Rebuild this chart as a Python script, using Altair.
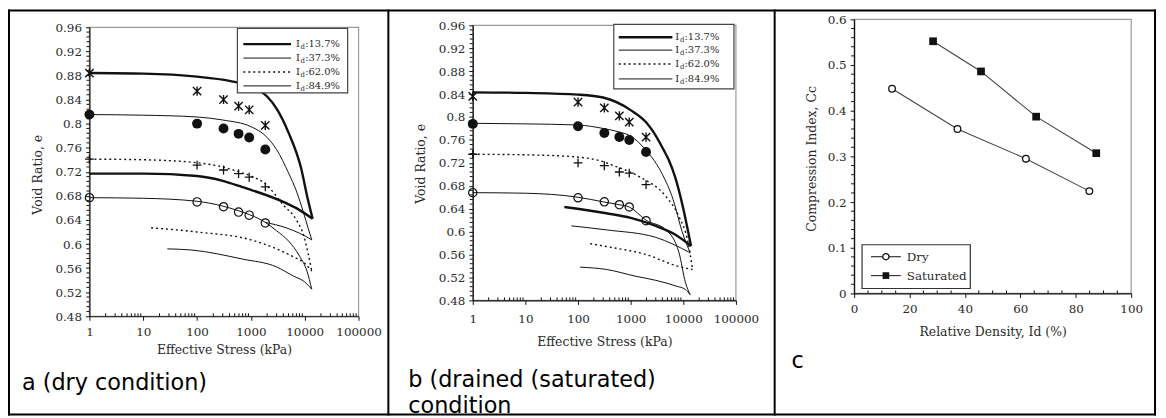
import altair as alt
import pandas as pd

# ------------------------------------------------------------------
# values
# ------------------------------------------------------------------
STRESS_TICKS = [1, 10, 100, 1000, 10000, 100000]
VOID_TICKS = [0.48, 0.52, 0.56, 0.60, 0.64, 0.68, 0.72, 0.76, 0.80, 0.84, 0.88, 0.92, 0.96]
CC_TICKS = [0.0, 0.1, 0.2, 0.3, 0.4, 0.5, 0.6]
ID_TICKS = [0, 20, 40, 60, 80, 100]
DENSITY_LABELS = ["13.7%", "37.3%", "62.0%", "84.9%"]
C_SERIES = ["Dry", "Saturated"]
CAPTIONS = ["a (dry condition)", "b (drained (saturated)", "condition", "c"]

# panel a (dry): loading / unloading curves (stress kPa, void ratio)
A_L137_S = [1, 10, 100, 400, 1000, 2000, 3000, 5000, 8500, 11500, 14000]
A_L137_E = [0.884, 0.883, 0.878, 0.871, 0.862, 0.845, 0.825, 0.785, 0.727, 0.673, 0.642]
A_U137_S = [1, 10, 100, 300, 725, 1000, 4500, 7500, 14000]
A_U137_E = [0.717, 0.717, 0.713, 0.705, 0.694, 0.690, 0.668, 0.658, 0.642]
A_L373_S = [1, 10, 100, 300, 1000, 2000, 3000, 5000, 7000, 9500, 11500, 13500]
A_L373_E = [0.815, 0.814, 0.811, 0.806, 0.795, 0.777, 0.757, 0.718, 0.688, 0.652, 0.627, 0.607]
A_U373_S = [1850, 4500, 8000, 13500]
A_U373_E = [0.636, 0.627, 0.618, 0.607]
A_L620_S = [1, 10, 100, 300, 600, 930, 1850, 4000, 7000, 9500, 11500, 13500]
A_L620_E = [0.741, 0.740, 0.735, 0.728, 0.720, 0.714, 0.700, 0.665, 0.640, 0.615, 0.585, 0.555]
A_U620_S = [14, 100, 1000, 3000, 6100, 10000, 13500]
A_U620_E = [0.627, 0.620, 0.607, 0.592, 0.579, 0.568, 0.555]
A_L849_S = [1, 10, 100, 300, 600, 930, 1850, 3000, 5000, 8000, 11000, 13500]
A_L849_E = [0.677, 0.676, 0.671, 0.663, 0.655, 0.649, 0.636, 0.622, 0.605, 0.580, 0.555, 0.525]
A_U849_S = [28, 80, 700, 3000, 6100, 10000, 13500]
A_U849_E = [0.592, 0.590, 0.575, 0.562, 0.547, 0.537, 0.525]
# panel a measured points
A_MS = [1, 100, 310, 590, 930, 1850]
A_M137 = [0.884, 0.854, 0.840, 0.829, 0.823, 0.797]
A_M373 = [0.815, 0.800, 0.792, 0.783, 0.777, 0.757]
A_M620 = [0.741, 0.731, 0.723, 0.717, 0.711, 0.695]
A_M849 = [0.677, 0.670, 0.662, 0.653, 0.648, 0.635]

# panel b (drained / saturated)
B_L137_S = [1, 10, 100, 300, 1000, 2000, 2700, 4200, 5300, 7000, 10000, 14000]
B_L137_E = [0.843, 0.842, 0.839, 0.834, 0.812, 0.790, 0.774, 0.743, 0.725, 0.695, 0.640, 0.575]
B_U137_S = [55, 345, 1000, 3000, 7000, 14000]
B_U137_E = [0.643, 0.632, 0.624, 0.610, 0.595, 0.575]
B_L373_S = [1, 10, 100, 300, 600, 940, 1960, 4000, 6400, 9500, 13500]
B_L373_E = [0.789, 0.788, 0.786, 0.780, 0.774, 0.768, 0.742, 0.700, 0.656, 0.600, 0.563]
B_U373_S = [75, 350, 3000, 13500]
B_U373_E = [0.610, 0.603, 0.590, 0.563]
B_L620_S = [1, 10, 100, 300, 420, 1450, 4700, 8300, 12400, 15000]
B_L620_E = [0.735, 0.734, 0.730, 0.722, 0.717, 0.696, 0.661, 0.626, 0.580, 0.534]
B_U620_S = [170, 345, 1960, 8300, 15000]
B_U620_E = [0.579, 0.574, 0.560, 0.539, 0.534]
B_L849_S = [1, 10, 100, 300, 600, 940, 1960, 4700, 8300, 11000, 13500]
B_L849_E = [0.668, 0.667, 0.660, 0.652, 0.647, 0.643, 0.620, 0.603, 0.563, 0.511, 0.490]
B_U849_S = [110, 345, 1270, 3000, 7300, 11000, 13500]
B_U849_E = [0.538, 0.534, 0.522, 0.515, 0.505, 0.499, 0.490]
B_MS = [1, 100, 316, 610, 940, 1960]
B_M137 = [0.836, 0.826, 0.816, 0.802, 0.791, 0.765]
B_M373 = [0.788, 0.784, 0.772, 0.765, 0.760, 0.739]
B_M620 = [0.735, 0.720, 0.715, 0.704, 0.702, 0.682]
B_M849 = [0.668, 0.659, 0.652, 0.647, 0.643, 0.619]

# panel c: compression index vs relative density
C_DRY_ID = [13.7, 37.3, 62.0, 84.9]
C_DRY_CC = [0.448, 0.360, 0.295, 0.224]
C_SAT_ID = [28.5, 45.8, 65.7, 87.4]
C_SAT_CC = [0.552, 0.486, 0.387, 0.307]

# ------------------------------------------------------------------
# layout / style
# ------------------------------------------------------------------
W, H = 1158, 410
SERIF = "DejaVu Serif"
SANS = "DejaVu Sans"
INK = "#111111"
TXT = "#2a2a2a"
FRAME = "#9a9a9a"
ONE = pd.DataFrame({"z": [0]})

PA = dict(x0=82, x1=353, y0=309, y1=18)
PB = dict(x0=468, x1=733, y0=293, y1=16)
PC = dict(x0=852, x1=1131, y0=286, y1=10)

ASTER = "M-1,-1L1,1M-1,1L1,-1M0,-1.1L0,1.1"
PLUS = "M-1,0L1,0M0,-1L0,1"
LINE_STYLES = [dict(strokeWidth=2.4), dict(strokeWidth=1.0),
               dict(strokeWidth=1.4, strokeDash=[2, 3]), dict(strokeWidth=1.0)]
MARK_STYLES = [dict(shape=ASTER, filled=False, size=70, strokeWidth=1.4),
               dict(shape="circle", filled=True, size=100),
               dict(shape=PLUS, filled=False, size=80, strokeWidth=1.3),
               dict(shape="circle", filled=False, size=70, strokeWidth=1.2)]

XMINOR_LOG = [k * 10 ** d for d in range(5) for k in range(2, 10)]
YMINOR_VOID = [round(0.48 + 0.008 * i, 3) for i in range(61) if i % 5 != 0]
XMINOR_C = [v for v in range(0, 101, 5) if v % 20 != 0]
YMINOR_C = [round(0.02 * i, 2) for i in range(31) if i % 5 != 0]


def make_axis(**kw):
    base = dict(grid=False, labelFont=SERIF, labelFontSize=12, labelColor=TXT,
                titleFont=SERIF, titleFontSize=12.5, titleFontWeight="normal",
                titleColor=TXT, domainColor=INK, domainWidth=1.2, tickColor=INK,
                tickWidth=1, tickSize=4, labelFlush=False, labelOverlap=False,
                zindex=2, titleBaseline="middle", titleAlign="center")
    base.update(kw)
    return alt.Axis(**base)


def curves_df(curves):
    rows = []
    for cid, (s, e) in enumerate(curves):
        for k, (x, y) in enumerate(zip(s, e)):
            rows.append({"cid": cid, "k": k, "s": x, "e": y})
    return pd.DataFrame(rows)


def minor_layers(P, xs, ys, xax, yax, xminor, yminor):
    xm = alt.Chart(pd.DataFrame({"v": xminor})).mark_rule(color=INK, strokeWidth=1).encode(
        x=alt.X("v:Q", scale=xs, axis=xax), y=alt.value(P["y0"]), y2=alt.value(P["y0"] - 3))
    ym = alt.Chart(pd.DataFrame({"v": yminor})).mark_rule(color=INK, strokeWidth=1).encode(
        y=alt.Y("v:Q", scale=ys, axis=yax), x=alt.value(P["x0"] - 3), x2=alt.value(P["x0"]))
    return [xm, ym]


def stress_panel(P, loads, unloads, ms, marks, leg, xlab_pad, xtitle_dy, ytitle_dx, ytitle_y):
    xs = alt.Scale(type="log", domain=[1, 100000], range=[P["x0"], P["x1"]], nice=False)
    ys = alt.Scale(domain=[0.48, 0.96], range=[P["y0"], P["y1"]], nice=False, zero=False)
    xax = make_axis(orient="bottom", offset=P["y0"] - H, values=STRESS_TICKS, format="d",
                    title="Effective Stress (kPa)", labelPadding=xlab_pad,
                    titleY=xtitle_dy, titleX=(P["x0"] + P["x1"]) / 2)
    yax = make_axis(orient="left", offset=-P["x0"], values=VOID_TICKS, format=".2~f",
                    title="Void Ratio, e", labelPadding=4, titleAngle=270,
                    titleX=ytitle_dx, titleY=ytitle_y)
    frame = alt.Chart(pd.DataFrame({"x0": [1], "x1": [100000], "y0": [0.48], "y1": [0.96]})).mark_rect(
        filled=False, color=FRAME, strokeWidth=1.2).encode(
        x=alt.X("x0:Q", scale=xs, axis=xax), x2="x1:Q",
        y=alt.Y("y0:Q", scale=ys, axis=yax), y2="y1:Q")
    layers = [frame]
    for j in range(4):
        df = curves_df([loads[j], unloads[j]])
        layers.append(alt.Chart(df).mark_line(color=INK, interpolate="monotone", **LINE_STYLES[j]).encode(
            x=alt.X("s:Q", scale=xs, axis=xax), y=alt.Y("e:Q", scale=ys, axis=yax),
            detail="cid:N", order="k:Q"))
    for j in range(4):
        df = pd.DataFrame({"s": ms, "e": marks[j]})
        layers.append(alt.Chart(df).mark_point(color=INK, opacity=1, **MARK_STYLES[j]).encode(
            x=alt.X("s:Q", scale=xs, axis=xax), y=alt.Y("e:Q", scale=ys, axis=yax)))
    layers += minor_layers(P, xs, ys, xax, yax, XMINOR_LOG, YMINOR_VOID)
    # legend
    bx0, bx1, by0, by1 = leg["box"]
    layers.append(alt.Chart(ONE).mark_rect(fill="white", stroke="#444", strokeWidth=1.2).encode(
        x=alt.value(bx0), x2=alt.value(bx1), y=alt.value(by0), y2=alt.value(by1)))
    for j, lab in enumerate(DENSITY_LABELS):
        yy = leg["rows"][j]
        layers.append(alt.Chart(ONE).mark_rule(color=INK, **LINE_STYLES[j]).encode(
            x=alt.value(leg["lx"][0]), x2=alt.value(leg["lx"][1]), y=alt.value(yy)))
        tx = leg["tx"]
        layers.append(alt.Chart(ONE).mark_text(text="I", font=SERIF, fontSize=10, color=TXT,
                                               align="left", baseline="middle").encode(
            x=alt.value(tx), y=alt.value(yy)))
        layers.append(alt.Chart(ONE).mark_text(text="d", font=SERIF, fontSize=7, color=TXT,
                                               align="left", baseline="middle").encode(
            x=alt.value(tx + 4.6), y=alt.value(yy + 3)))
        layers.append(alt.Chart(pd.DataFrame({"t": [":" + lab]})).mark_text(
            font=SERIF, fontSize=10, color=TXT, align="left", baseline="middle").encode(
            x=alt.value(tx + 9.2), y=alt.value(yy), text="t:N"))
    return alt.layer(*layers)


panel_a = stress_panel(
    PA,
    [(A_L137_S, A_L137_E), (A_L373_S, A_L373_E), (A_L620_S, A_L620_E), (A_L849_S, A_L849_E)],
    [(A_U137_S, A_U137_E), (A_U373_S, A_U373_E), (A_U620_S, A_U620_E), (A_U849_S, A_U849_E)],
    A_MS, [A_M137, A_M373, A_M620, A_M849],
    dict(box=(231, 342, 19, 84), lx=(237, 285), tx=290, rows=[35, 49, 63, 77]),
    xlab_pad=6.5, xtitle_dy=33, ytitle_dx=-52, ytitle_y=166)

panel_b = stress_panel(
    PB,
    [(B_L137_S, B_L137_E), (B_L373_S, B_L373_E), (B_L620_S, B_L620_E), (B_L849_S, B_L849_E)],
    [(B_U137_S, B_U137_E), (B_U373_S, B_U373_E), (B_U620_S, B_U620_E), (B_U849_S, B_U849_E)],
    B_MS, [B_M137, B_M373, B_M620, B_M849],
    dict(box=(610, 731, 15, 80), lx=(615, 669), tx=672, rows=[28, 41, 55, 70]),
    xlab_pad=9.5, xtitle_dy=41, ytitle_dx=-53, ytitle_y=155)

# ---------------- panel c ----------------
xs_c = alt.Scale(domain=[0, 100], range=[PC["x0"], PC["x1"]], nice=False, zero=False)
ys_c = alt.Scale(domain=[0, 0.6], range=[PC["y0"], PC["y1"]], nice=False, zero=False)
xax_c = make_axis(orient="bottom", offset=PC["y0"] - H, values=ID_TICKS, format="d",
                  title="Relative Density, Id (%)", labelPadding=6.5, titleY=38,
                  titleX=(PC["x0"] + PC["x1"]) / 2)
yax_c = make_axis(orient="left", offset=-PC["x0"], values=CC_TICKS, format=".1~f",
                  title="Compression Index, Cc", labelPadding=4, titleAngle=270,
                  titleX=-43, titleY=150)
frame_c = alt.Chart(pd.DataFrame({"x0": [0], "x1": [100], "y0": [0.0], "y1": [0.6]})).mark_rect(
    filled=False, color=FRAME, strokeWidth=1.2).encode(
    x=alt.X("x0:Q", scale=xs_c, axis=xax_c), x2="x1:Q",
    y=alt.Y("y0:Q", scale=ys_c, axis=yax_c), y2="y1:Q")
dry_df = pd.DataFrame({"Id": C_DRY_ID, "Cc": C_DRY_CC})
sat_df = pd.DataFrame({"Id": C_SAT_ID, "Cc": C_SAT_CC})
enc_c = dict(x=alt.X("Id:Q", scale=xs_c, axis=xax_c), y=alt.Y("Cc:Q", scale=ys_c, axis=yax_c))
c_layers = [
    frame_c,
    alt.Chart(dry_df).mark_line(color="#444", strokeWidth=1.1).encode(**enc_c),
    alt.Chart(sat_df).mark_line(color="#444", strokeWidth=1.1).encode(**enc_c),
    alt.Chart(dry_df).mark_point(shape="circle", filled=True, fill="white", stroke=INK,
                                 strokeWidth=1.3, size=45, opacity=1).encode(**enc_c),
    alt.Chart(sat_df).mark_point(shape="square", filled=True, color=INK, size=60,
                                 opacity=1).encode(**enc_c),
]
c_layers += minor_layers(PC, xs_c, ys_c, xax_c, yax_c, XMINOR_C, YMINOR_C)
# legend c
c_layers.append(alt.Chart(ONE).mark_rect(fill="white", stroke="#333", strokeWidth=1.2).encode(
    x=alt.value(860), x2=alt.value(969), y=alt.value(237), y2=alt.value(281)))
for j, lab in enumerate(C_SERIES):
    yy = [249, 268][j]
    c_layers.append(alt.Chart(ONE).mark_rule(color="#333", strokeWidth=1.2).encode(
        x=alt.value(869), x2=alt.value(899), y=alt.value(yy)))
    if j == 0:
        c_layers.append(alt.Chart(ONE).mark_point(shape="circle", filled=True, fill="white",
                                                  stroke=INK, strokeWidth=1.3, size=40,
                                                  opacity=1).encode(x=alt.value(884), y=alt.value(yy)))
    else:
        c_layers.append(alt.Chart(ONE).mark_point(shape="square", filled=True, color=INK,
                                                  size=45, opacity=1).encode(
            x=alt.value(884), y=alt.value(yy)))
    c_layers.append(alt.Chart(pd.DataFrame({"t": [lab]})).mark_text(
        font=SERIF, fontSize=12, color=TXT, align="left", baseline="middle").encode(
        x=alt.value(905), y=alt.value(yy), text="t:N"))
panel_c = alt.layer(*c_layers)

# ---------------- table borders & captions ----------------
deco = []
for xv in [1, 383, 772, 1155]:
    deco.append(alt.Chart(ONE).mark_rule(color="black", strokeWidth=2).encode(
        x=alt.value(xv), y=alt.value(0), y2=alt.value(409)))
for yv in [1, 408]:
    deco.append(alt.Chart(ONE).mark_rule(color="black", strokeWidth=2).encode(
        y=alt.value(yv), x=alt.value(0), x2=alt.value(1156)))
cap_pos = [(14, 383), (403, 380), (403, 406), (789, 361)]
for txt, (cx, cy) in zip(CAPTIONS, cap_pos):
    deco.append(alt.Chart(pd.DataFrame({"t": [txt]})).mark_text(
        font=SANS, fontSize=22.5, color="black", align="left", baseline="alphabetic").encode(
        x=alt.value(cx), y=alt.value(cy), text="t:N"))

chart = alt.layer(panel_a, panel_b, panel_c, *deco).resolve_scale(
    x="independent", y="independent"
).properties(
    width=W, height=H, padding=0, autosize=alt.AutoSizeParams(type="none")
).configure_view(stroke=None)

chart.save("out.html", embed_options={"renderer": "svg", "actions": False})
